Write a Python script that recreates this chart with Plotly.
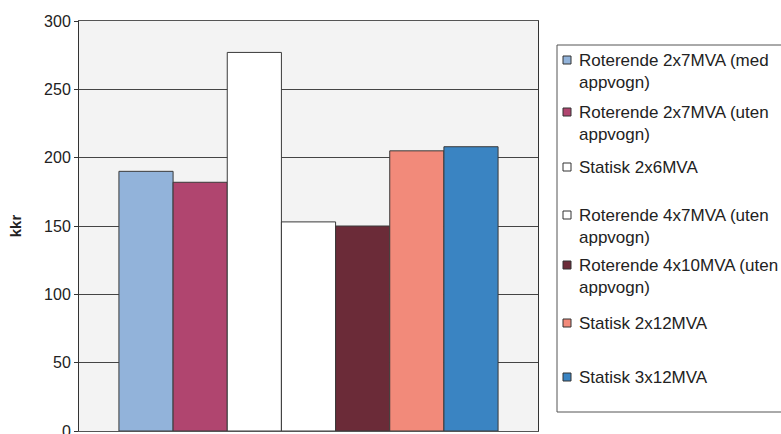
import plotly.graph_objects as go

# Annual cost per alternative (kkr)
series_names = [
    "Roterende 2x7MVA (med appvogn)",
    "Roterende 2x7MVA (uten appvogn)",
    "Statisk 2x6MVA",
    "Roterende 4x7MVA (uten appvogn)",
    "Roterende 4x10MVA (uten appvogn)",
    "Statisk 2x12MVA",
    "Statisk 3x12MVA",
]
legend_labels = [
    "Roterende 2x7MVA (med<br>appvogn)",
    "Roterende 2x7MVA (uten<br>appvogn)",
    "Statisk 2x6MVA",
    "Roterende 4x7MVA (uten<br>appvogn)",
    "Roterende 4x10MVA (uten<br>appvogn)",
    "Statisk 2x12MVA",
    "Statisk 3x12MVA",
]
values = [190, 182, 277, 153, 150, 205, 208]
colors = ["#92b3da", "#b0456f", "#ffffff", "#ffffff", "#6b2b38", "#f28a7a", "#3a84c2"]
y_ticks = [0, 50, 100, 150, 200, 250, 300]

FONT = "Liberation Sans, Arial, sans-serif"
W, H = 781, 434
ML, MR, MT, MB = 79, 243, 21, 3
PW, PH = W - ML - MR, H - MT - MB


def px_x(x):
    return (x - ML) / PW


def px_y(y):
    return (H - MB - y) / PH


fig = go.Figure()
for name, v, c in zip(series_names, values, colors):
    fig.add_trace(go.Bar(
        x=[""], y=[v], name=name, showlegend=False,
        marker=dict(color=c, line=dict(color="#3a3a3a", width=1)),
    ))

# Legend box drawn by hand so the swatches sit tight against the text
shapes = [dict(type="rect", xref="paper", yref="paper",
               x0=px_x(557), x1=px_x(800), y0=px_y(412), y1=px_y(45),
               line=dict(color="#555555", width=1), fillcolor="white", layer="below")]
annotations = []
entry_centers = [60, 112, 167, 215, 265, 323, 377]
for lab, c, yc in zip(legend_labels, colors, entry_centers):
    shapes.append(dict(type="rect", xref="paper", yref="paper",
                       x0=px_x(563), x1=px_x(571), y0=px_y(yc + 4), y1=px_y(yc - 4),
                       line=dict(color="#333333", width=1), fillcolor=c))
    annotations.append(dict(xref="paper", yref="paper", x=px_x(577), y=px_y(yc - 11),
                            xanchor="left", yanchor="top", align="left", showarrow=False,
                            text=lab, font=dict(family=FONT, size=17, color="#222222")))

fig.update_layout(
    width=W, height=H,
    margin=dict(l=ML, r=MR, t=MT, b=MB, autoexpand=False),
    paper_bgcolor="white", plot_bgcolor="#f3f3f3",
    barmode="group", bargap=0.174, bargroupgap=0,
    shapes=shapes, annotations=annotations,
    font=dict(family=FONT, color="#222222"),
)
fig.update_xaxes(range=[-0.5, 0.5], showticklabels=False, ticks="",
                 showline=True, linecolor="#555555", mirror=True, showgrid=False)
fig.update_yaxes(range=[0, 300], tickvals=y_ticks, ticks="outside", ticklen=4,
                 tickcolor="#333333", showline=True, linecolor="#333333", mirror=True,
                 showgrid=True, gridcolor="#444444", gridwidth=1,
                 ticklabeloverflow="allow",
                 tickfont=dict(family=FONT, size=16, color="#222222"),
                 title=dict(text="<b>kkr</b>", font=dict(family=FONT, size=15), standoff=18),
                 zeroline=False)

fig.write_html("out.html")
